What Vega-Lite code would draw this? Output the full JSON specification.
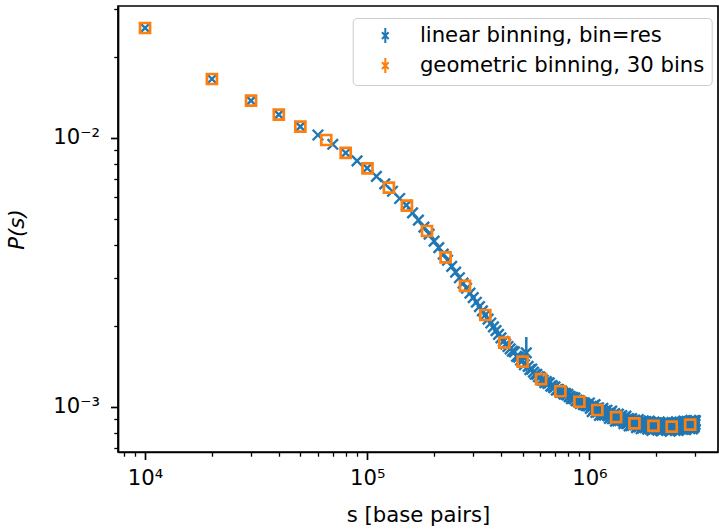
{
  "$schema": "https://vega.github.io/schema/vega-lite/v6.json",
  "width": 600,
  "height": 446,
  "autosize": "none",
  "padding": {"left": 118, "top": 6, "right": 1, "bottom": 77},
  "background": "white",
  "config": {
    "font": "DejaVu Sans",
    "view": {"stroke": "black", "strokeWidth": 1.7},
    "axis": {
      "grid": false,
      "domainColor": "black",
      "domainWidth": 1.7,
      "tickColor": "black",
      "labelColor": "black",
      "titleColor": "black",
      "labelFontSize": 21.2,
      "titleFontSize": 21.2,
      "titleFontWeight": "normal",
      "labelOverlap": false,
      "labelFlush": false,
      "labelBound": false
    },
    "legend": {"labelFont": "DejaVu Sans"}
  },
  "datasets": {
    "lin": [
      {"s":10000,"p":0.02557},{"s":20000,"p":0.01652},{"s":30000,"p":0.01372},{"s":40000,"p":0.01218},{"s":50000,"p":0.01099},
      {"s":60000,"p":0.01023},{"s":70000,"p":0.00945},{"s":80000,"p":0.008772},{"s":90000,"p":0.008195},{"s":100000,"p":0.007709},
      {"s":110000,"p":0.007183},{"s":120000,"p":0.006728},{"s":130000,"p":0.006321},{"s":140000,"p":0.005942},{"s":150000,"p":0.005617},
      {"s":160000,"p":0.005256},{"s":170000,"p":0.004936},{"s":180000,"p":0.004649},{"s":190000,"p":0.00438},{"s":200000,"p":0.004126},
      {"s":210000,"p":0.003899},{"s":220000,"p":0.003693},{"s":230000,"p":0.003502},{"s":240000,"p":0.003324},{"s":250000,"p":0.003164},
      {"s":260000,"p":0.003015},{"s":270000,"p":0.002879},{"s":280000,"p":0.002756},{"s":290000,"p":0.002645},{"s":300000,"p":0.002542},
      {"s":310000,"p":0.002445},{"s":320000,"p":0.002355},{"s":330000,"p":0.002271},{"s":340000,"p":0.002192},{"s":350000,"p":0.002117},
      {"s":360000,"p":0.002047},{"s":370000,"p":0.00198},{"s":380000,"p":0.001918},{"s":390000,"p":0.001858},{"s":400000,"p":0.001803},
      {"s":410000,"p":0.00175},{"s":420000,"p":0.001708},{"s":430000,"p":0.001674},{"s":440000,"p":0.001641},{"s":450000,"p":0.001608},
      {"s":460000,"p":0.001598},{"s":470000,"p":0.001539},{"s":480000,"p":0.001529},{"s":490000,"p":0.001489},{"s":500000,"p":0.001482},
      {"s":510000,"p":0.001432},{"s":520000,"p":0.001584,"lo":0.001353,"hi":0.001815},{"s":530000,"p":0.001412},{"s":540000,"p":0.001374},{"s":550000,"p":0.00138},
      {"s":560000,"p":0.001344},{"s":570000,"p":0.00132},{"s":580000,"p":0.001318},{"s":590000,"p":0.001292},{"s":600000,"p":0.001288},
      {"s":610000,"p":0.001257},{"s":620000,"p":0.001254},{"s":630000,"p":0.001229},{"s":640000,"p":0.001239},{"s":650000,"p":0.00122},
      {"s":660000,"p":0.001226},{"s":670000,"p":0.001192},{"s":680000,"p":0.001197},{"s":690000,"p":0.001177},{"s":700000,"p":0.001184},
      {"s":710000,"p":0.001152},{"s":720000,"p":0.001159},{"s":730000,"p":0.001155},{"s":740000,"p":0.001131},{"s":750000,"p":0.001145},
      {"s":760000,"p":0.001125},{"s":770000,"p":0.001114},{"s":780000,"p":0.00112},{"s":790000,"p":0.001107},{"s":800000,"p":0.001112},
      {"s":810000,"p":0.00109},{"s":820000,"p":0.001091},{"s":830000,"p":0.001072},{"s":840000,"p":0.001083},{"s":850000,"p":0.00107},
      {"s":860000,"p":0.001078},{"s":870000,"p":0.001053},{"s":880000,"p":0.001059},{"s":890000,"p":0.001044},{"s":900000,"p":0.001053},
      {"s":910000,"p":0.001028},{"s":920000,"p":0.001037},{"s":930000,"p":0.001036},{"s":940000,"p":0.001018},{"s":950000,"p":0.001033},
      {"s":960000,"p":0.001016},{"s":970000,"p":0.001008},{"s":980000,"p":0.001017},{"s":990000,"p":0.001006},{"s":1000000,"p":0.001032},
      {"s":1010000,"p":0.000985},{"s":1020000,"p":0.001002},{"s":1030000,"p":0.000958},{"s":1040000,"p":0.001007},{"s":1050000,"p":0.00098},
      {"s":1060000,"p":0.001017},{"s":1070000,"p":0.000952},{"s":1080000,"p":0.000985},{"s":1090000,"p":0.000954},{"s":1100000,"p":0.000991},
      {"s":1110000,"p":0.000929},{"s":1120000,"p":0.000966},{"s":1130000,"p":0.000974},{"s":1140000,"p":0.00093},{"s":1150000,"p":0.000986},
      {"s":1160000,"p":0.000945},{"s":1170000,"p":0.00093},{"s":1180000,"p":0.000964},{"s":1190000,"p":0.000942},{"s":1200000,"p":0.00097},
      {"s":1210000,"p":0.000927},{"s":1220000,"p":0.000944},{"s":1230000,"p":0.000904},{"s":1240000,"p":0.000951},{"s":1250000,"p":0.000926},
      {"s":1260000,"p":0.000963},{"s":1270000,"p":0.000902},{"s":1280000,"p":0.000934},{"s":1290000,"p":0.000905},{"s":1300000,"p":0.000942},
      {"s":1310000,"p":0.000883},{"s":1320000,"p":0.000918},{"s":1330000,"p":0.000926},{"s":1340000,"p":0.000885},{"s":1350000,"p":0.000939},
      {"s":1360000,"p":0.0009},{"s":1370000,"p":0.000887},{"s":1380000,"p":0.00092},{"s":1390000,"p":0.000899},{"s":1400000,"p":0.000926},
      {"s":1410000,"p":0.000886},{"s":1420000,"p":0.000902},{"s":1430000,"p":0.000865},{"s":1440000,"p":0.00091},{"s":1450000,"p":0.000887},
      {"s":1460000,"p":0.000923},{"s":1470000,"p":0.000865},{"s":1480000,"p":0.000896},{"s":1490000,"p":0.000869},{"s":1500000,"p":0.000904},
      {"s":1510000,"p":0.000848},{"s":1520000,"p":0.000882},{"s":1530000,"p":0.00089},{"s":1540000,"p":0.000851},{"s":1550000,"p":0.000903},
      {"s":1560000,"p":0.000866},{"s":1570000,"p":0.000853},{"s":1580000,"p":0.000886},{"s":1590000,"p":0.000866},{"s":1600000,"p":0.000892},
      {"s":1610000,"p":0.000855},{"s":1620000,"p":0.000871},{"s":1630000,"p":0.000836},{"s":1640000,"p":0.000881},{"s":1650000,"p":0.00086},
      {"s":1660000,"p":0.000896},{"s":1670000,"p":0.000841},{"s":1680000,"p":0.000872},{"s":1690000,"p":0.000846},{"s":1700000,"p":0.000882},
      {"s":1710000,"p":0.000828},{"s":1720000,"p":0.000863},{"s":1730000,"p":0.000871},{"s":1740000,"p":0.000834},{"s":1750000,"p":0.000886},
      {"s":1760000,"p":0.000851},{"s":1770000,"p":0.000839},{"s":1780000,"p":0.000872},{"s":1790000,"p":0.000853},{"s":1800000,"p":0.00088},
      {"s":1810000,"p":0.000843},{"s":1820000,"p":0.000859},{"s":1830000,"p":0.000825},{"s":1840000,"p":0.000869},{"s":1850000,"p":0.000848},
      {"s":1860000,"p":0.000884},{"s":1870000,"p":0.000829},{"s":1880000,"p":0.00086},{"s":1890000,"p":0.000835},{"s":1900000,"p":0.00087},
      {"s":1910000,"p":0.000817},{"s":1920000,"p":0.000852},{"s":1930000,"p":0.000861},{"s":1940000,"p":0.000824},{"s":1950000,"p":0.000876},
      {"s":1960000,"p":0.000841},{"s":1970000,"p":0.00083},{"s":1980000,"p":0.000863},{"s":1990000,"p":0.000845},{"s":2000000,"p":0.000871},
      {"s":2010000,"p":0.000835},{"s":2020000,"p":0.000852},{"s":2030000,"p":0.000818},{"s":2040000,"p":0.000862},{"s":2050000,"p":0.000842},
      {"s":2060000,"p":0.000877},{"s":2070000,"p":0.000824},{"s":2080000,"p":0.000855},{"s":2090000,"p":0.000831},{"s":2100000,"p":0.000866},
      {"s":2110000,"p":0.000813},{"s":2120000,"p":0.000848},{"s":2130000,"p":0.000857},{"s":2140000,"p":0.000821},{"s":2150000,"p":0.000872},
      {"s":2160000,"p":0.000838},{"s":2170000,"p":0.000827},{"s":2180000,"p":0.00086},{"s":2190000,"p":0.000842},{"s":2200000,"p":0.000869},
      {"s":2210000,"p":0.000833},{"s":2220000,"p":0.00085},{"s":2230000,"p":0.000816},{"s":2240000,"p":0.00086},{"s":2250000,"p":0.00084},
      {"s":2260000,"p":0.000875},{"s":2270000,"p":0.000822},{"s":2280000,"p":0.000853},{"s":2290000,"p":0.000828},{"s":2300000,"p":0.000864},
      {"s":2310000,"p":0.000811},{"s":2320000,"p":0.000846},{"s":2330000,"p":0.000855},{"s":2340000,"p":0.000818},{"s":2350000,"p":0.00087},
      {"s":2360000,"p":0.000836},{"s":2370000,"p":0.000826},{"s":2380000,"p":0.000859},{"s":2390000,"p":0.000842},{"s":2400000,"p":0.000869},
      {"s":2410000,"p":0.000833},{"s":2420000,"p":0.00085},{"s":2430000,"p":0.000817},{"s":2440000,"p":0.000862},{"s":2450000,"p":0.000842},
      {"s":2460000,"p":0.000878},{"s":2470000,"p":0.000825},{"s":2480000,"p":0.000856},{"s":2490000,"p":0.000832},{"s":2500000,"p":0.000868},
      {"s":2510000,"p":0.000816},{"s":2520000,"p":0.000851},{"s":2530000,"p":0.00086},{"s":2540000,"p":0.000824},{"s":2550000,"p":0.000876},
      {"s":2560000,"p":0.000843},{"s":2570000,"p":0.000832},{"s":2580000,"p":0.000865},{"s":2590000,"p":0.000848},{"s":2600000,"p":0.000875},
      {"s":2610000,"p":0.000839},{"s":2620000,"p":0.000856},{"s":2630000,"p":0.000823},{"s":2640000,"p":0.000868},{"s":2650000,"p":0.000848},
      {"s":2660000,"p":0.000884},{"s":2670000,"p":0.00083},{"s":2680000,"p":0.000862},{"s":2690000,"p":0.000838},{"s":2700000,"p":0.000874},
      {"s":2710000,"p":0.000821},{"s":2720000,"p":0.000857},{"s":2730000,"p":0.000866},{"s":2740000,"p":0.00083},{"s":2750000,"p":0.000882},
      {"s":2760000,"p":0.000848},{"s":2770000,"p":0.000838},{"s":2780000,"p":0.000871},{"s":2790000,"p":0.000853},{"s":2800000,"p":0.000881},
      {"s":2810000,"p":0.000845},{"s":2820000,"p":0.000862},{"s":2830000,"p":0.000828},{"s":2840000,"p":0.000874},{"s":2850000,"p":0.000853},
      {"s":2860000,"p":0.00089},{"s":2870000,"p":0.000836},{"s":2880000,"p":0.000868},{"s":2890000,"p":0.000843},{"s":2900000,"p":0.00088},
      {"s":2910000,"p":0.000827},{"s":2920000,"p":0.000862},{"s":2930000,"p":0.000872},{"s":2940000,"p":0.000835},{"s":2950000,"p":0.000888},
      {"s":2960000,"p":0.000854},{"s":2970000,"p":0.000843},{"s":2980000,"p":0.000877},{"s":2990000,"p":0.000859},{"s":3000000,"p":0.000887}
    ],
    "geo": [
      {"s":10000,"p":0.02557},{"s":20000,"p":0.01652},{"s":30000,"p":0.01372},{"s":40000,"p":0.01218},{"s":50000,"p":0.01099},
      {"s":65400,"p":0.0098},{"s":80000,"p":0.008772},{"s":100300,"p":0.007693},{"s":125200,"p":0.006519},{"s":150900,"p":0.005588},
      {"s":185800,"p":0.004498},{"s":225300,"p":0.003592},{"s":275500,"p":0.00281},{"s":340100,"p":0.002192},{"s":414100,"p":0.001729},
      {"s":500600,"p":0.00147},{"s":605900,"p":0.001267},{"s":740300,"p":0.001141},{"s":901600,"p":0.001043},{"s":1086000,"p":0.000972},
      {"s":1319000,"p":0.000915},{"s":1595000,"p":0.000867},{"s":1942000,"p":0.000848},{"s":2348000,"p":0.000843},{"s":2842000,"p":0.000857}
    ]
  },
  "encoding": {
    "x": {
      "field": "s", "type": "quantitative",
      "scale": {"type": "log", "domain": [7556, 3792000], "nice": false},
      "axis": {
        "title": "s [base pairs]",
        "values": [8000,9000,10000,20000,30000,40000,50000,60000,70000,80000,90000,100000,200000,300000,400000,500000,600000,700000,800000,900000,1000000,2000000,3000000],
        "labelExpr": "datum.value == 10000 ? '10⁴' : datum.value == 100000 ? '10⁵' : datum.value == 1000000 ? '10⁶' : ''",
        "tickSize": {"condition": {"test": "datum.value == 10000 || datum.value == 100000 || datum.value == 1000000", "value": 7.5}, "value": 4.2},
        "tickWidth": {"condition": {"test": "datum.value == 10000 || datum.value == 100000 || datum.value == 1000000", "value": 1.7}, "value": 1.3},
        "labelPadding": 8,
        "titlePadding": 15.5
      }
    },
    "y": {
      "field": "p", "type": "quantitative",
      "scale": {"type": "log", "domain": [0.0006785, 0.030862], "nice": false},
      "axis": {
        "title": "P(s)",
        "titleFontStyle": "italic",
        "values": [0.0007,0.0008,0.0009,0.001,0.002,0.003,0.004,0.005,0.006,0.007,0.008,0.009,0.01,0.02,0.03],
        "labelExpr": "datum.value == 0.01 ? '10⁻²' : datum.value == 0.001 ? '10⁻³' : ''",
        "tickSize": {"condition": {"test": "datum.value == 0.01 || datum.value == 0.001", "value": 7.5}, "value": 4.2},
        "tickWidth": {"condition": {"test": "datum.value == 0.01 || datum.value == 0.001", "value": 1.7}, "value": 1.3},
        "labelPadding": 11,
        "titlePadding": 25
      }
    }
  },
  "layer": [
    {
      "data": {"name": "lin"},
      "transform": [{"filter": "isValid(datum.lo)"}],
      "mark": {"type": "rule", "color": "#1f77b4", "strokeWidth": 2.5},
      "encoding": {"y": {"field": "lo", "type": "quantitative"}, "y2": {"field": "hi"}}
    },
    {
      "data": {"name": "lin"},
      "mark": {"type": "point", "shape": "M-1,-1L1,1M-1,1L1,-1", "filled": false, "size": 110, "strokeWidth": 2.4, "opacity": 1},
      "encoding": {
        "color": {
          "datum": "linear binning, bin=res",
          "scale": {"domain": ["linear binning, bin=res", "geometric binning, 30 bins"], "range": ["#1f77b4", "#ff7f0e"]},
          "legend": {
            "title": null,
            "orient": "none",
            "legendX": 234.7,
            "legendY": 12,
            "padding": 7,
            "fillColor": "white",
            "strokeColor": "#cccccc",
            "cornerRadius": 4,
            "labelFontSize": 21.2,
            "labelColor": "black",
            "labelLimit": 500,
            "symbolSize": 225,
            "symbolStrokeWidth": 2,
            "symbolOffset": 15,
            "labelOffset": 24,
            "rowPadding": 6,
            "symbolType": "M-0.45,-0.45L0.45,0.45M-0.45,0.45L0.45,-0.45M0,-1L0,1",
            "encode": {
              "symbols": {
                "shape": {"value": {"expr": "datum.label == 'geometric binning, 30 bins' ? 'M-0.29,-0.29H0.29V0.29H-0.29ZM0,-1L0,-0.29M0,0.29L0,1' : 'M-0.45,-0.45L0.45,0.45M-0.45,0.45L0.45,-0.45M0,-1L0,1'"}}
              }
            }
          }
        }
      }
    },
    {
      "data": {"name": "geo"},
      "mark": {"type": "point", "shape": "square", "filled": false, "size": 100, "strokeWidth": 2.7, "opacity": 1},
      "encoding": {
        "color": {"datum": "geometric binning, 30 bins"}
      }
    }
  ]
}
